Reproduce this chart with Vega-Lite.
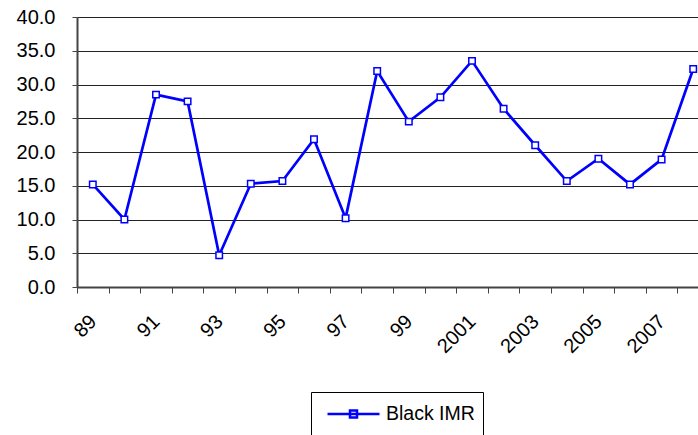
{
  "$schema": "https://vega.github.io/schema/vega-lite/v6.json",
  "width": 632,
  "height": 270,
  "autosize": {"type": "none"},
  "padding": {"left": 77, "top": 17, "right": -11, "bottom": 148},
  "background": "white",
  "data": {
    "values": [
      {"year": "89", "imr": 15.2, "series": "Black IMR"},
      {"year": "90", "imr": 10.0, "series": "Black IMR"},
      {"year": "91", "imr": 28.5, "series": "Black IMR"},
      {"year": "92", "imr": 27.5, "series": "Black IMR"},
      {"year": "93", "imr": 4.7, "series": "Black IMR"},
      {"year": "94", "imr": 15.3, "series": "Black IMR"},
      {"year": "95", "imr": 15.7, "series": "Black IMR"},
      {"year": "96", "imr": 21.9, "series": "Black IMR"},
      {"year": "97", "imr": 10.2, "series": "Black IMR"},
      {"year": "98", "imr": 32.0, "series": "Black IMR"},
      {"year": "99", "imr": 24.5, "series": "Black IMR"},
      {"year": "2000", "imr": 28.1, "series": "Black IMR"},
      {"year": "2001", "imr": 33.5, "series": "Black IMR"},
      {"year": "2002", "imr": 26.4, "series": "Black IMR"},
      {"year": "2003", "imr": 21.0, "series": "Black IMR"},
      {"year": "2004", "imr": 15.7, "series": "Black IMR"},
      {"year": "2005", "imr": 19.0, "series": "Black IMR"},
      {"year": "2006", "imr": 15.2, "series": "Black IMR"},
      {"year": "2007", "imr": 18.9, "series": "Black IMR"},
      {"year": "2008", "imr": 32.3, "series": "Black IMR"}
    ]
  },
  "mark": {
    "type": "line",
    "strokeWidth": 2.7,
    "point": {"shape": "square", "filled": false, "fill": "white", "size": 42, "strokeWidth": 1.5}
  },
  "encoding": {
    "x": {
      "field": "year",
      "type": "ordinal",
      "sort": null,
      "scale": {"type": "band", "paddingInner": 0, "paddingOuter": 0},
      "axis": {
        "title": null,
        "grid": false,
        "tickBand": "extent",
        "tickSize": 6,
        "tickColor": "#444",
        "domainColor": "#444",
        "domainWidth": 2,
        "labelAngle": -45,
        "labelAlign": "right",
        "labelBaseline": "top",
        "labelPadding": 18,
        "labelOffset": -7,
        "labelFont": "Liberation Sans",
        "labelFontSize": 20,
        "labelColor": "black",
        "labelOverlap": false,
        "labelExpr": "indexof(['89','91','93','95','97','99','2001','2003','2005','2007'], datum.label) >= 0 ? datum.label : ''"
      }
    },
    "y": {
      "field": "imr",
      "type": "quantitative",
      "scale": {"domain": [0, 40], "nice": false},
      "axis": {
        "title": null,
        "values": [0, 5, 10, 15, 20, 25, 30, 35, 40],
        "format": ".1f",
        "grid": true,
        "gridColor": "#222",
        "gridWidth": 1,
        "tickSize": 5,
        "tickColor": "#444",
        "domainColor": "#444",
        "domainWidth": 2,
        "labelPadding": 17,
        "labelFont": "Liberation Sans",
        "labelFontSize": 20,
        "labelColor": "black"
      }
    },
    "color": {
      "field": "series",
      "type": "nominal",
      "scale": {"range": ["#0000FF"]},
      "legend": {
        "title": null,
        "orient": "none",
        "legendX": 234,
        "legendY": 375,
        "strokeColor": "black",
        "fillColor": "white",
        "padding": 8,
        "clipHeight": 28,
        "symbolType": "M-0.3,0H4.9M1.95,-0.35H2.65V0.35H1.95Z",
        "symbolSize": 400,
        "symbolStrokeWidth": 2.5,
        "symbolStrokeColor": "#0000FF",
        "symbolFillColor": "white",
        "labelFont": "Liberation Sans",
        "labelFontSize": 19.5,
        "labelColor": "black",
        "labelOffset": 44
      }
    }
  },
  "config": {"view": {"stroke": null}}
}
